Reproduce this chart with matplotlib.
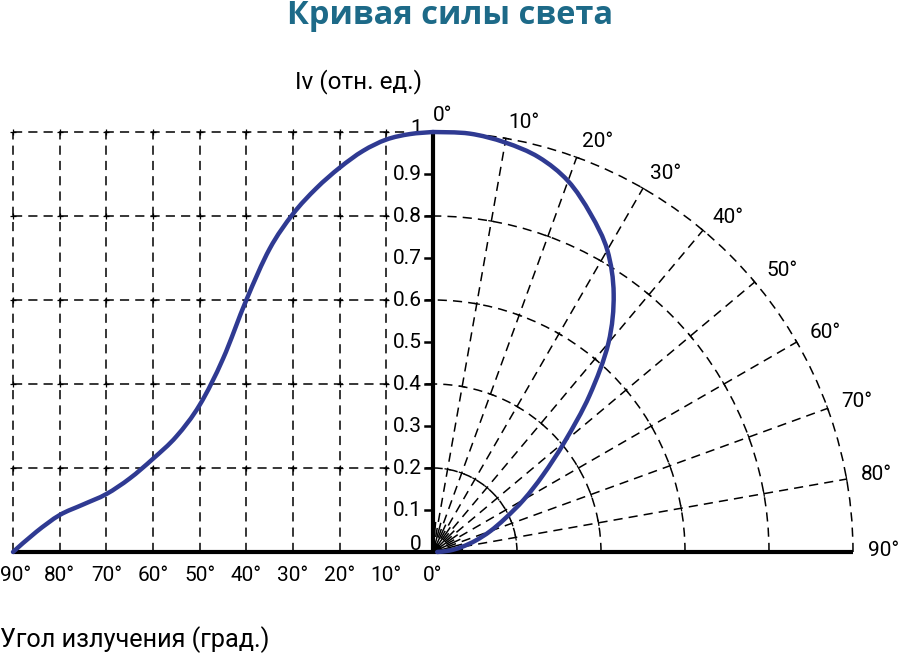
import numpy as np
import matplotlib

matplotlib.use("agg")
import matplotlib.pyplot as plt
from matplotlib.path import Path
from matplotlib.patches import PathPatch, Arc

plt.rcParams["font.family"] = ["Roboto", "DejaVu Sans"]

# left part: intensity vs angle (cartesian)
cart_angles = [0, 5, 10, 15, 20, 25, 30, 35, 40, 45, 50, 55, 60, 65, 70, 75, 80, 85, 90]
cart_values = [1.0, 0.995, 0.982, 0.955, 0.915, 0.866, 0.805, 0.722, 0.60, 0.46,
               0.35, 0.275, 0.222, 0.175, 0.138, 0.113, 0.088, 0.048, 0.0]

# right part: the same curve in polar form
polar_angles = [0, 5, 10, 15, 20, 25, 30, 35, 40, 45, 50, 55, 60, 65, 70, 75, 80, 85, 90]
polar_values = [1.0, 1.0, 0.99, 0.973, 0.94, 0.888, 0.83, 0.75, 0.65, 0.527,
                0.41, 0.32, 0.25, 0.19, 0.145, 0.105, 0.07, 0.04, 0.01]

grid_angles = [10, 20, 30, 40, 50, 60, 70, 80, 90]
grid_levels = [0.2, 0.4, 0.6, 0.8, 1.0]
y_ticks = [0, 0.1, 0.2, 0.3, 0.4, 0.5, 0.6, 0.7, 0.8, 0.9, 1]
polar_labels = [0, 10, 20, 30, 40, 50, 60, 70, 80, 90]

title = "Кривая силы света"
ylabel = "Iv (отн. ед.)"
xlabel = "Угол излучения (град.)"

CURVE = "#2f3a92"
DASH = (0, (6, 4))
FS = 15


def smooth_line(x, y):
    # catmull-rom through the points, drawn as bezier segments
    p = np.column_stack([x, y]).astype(float)
    verts = [p[0]]
    codes = [Path.MOVETO]
    n = len(p)
    for i in range(n - 1):
        p0 = p[max(i - 1, 0)]
        p3 = p[min(i + 2, n - 1)]
        c1 = p[i] + (p[i + 1] - p0) / 6
        c2 = p[i + 1] - (p3 - p[i]) / 6
        verts += [c1, c2, p[i + 1]]
        codes += [Path.CURVE4] * 3
    return Path(verts, codes)


fig = plt.figure(figsize=(9, 6.55), dpi=100)
ax = fig.add_axes([0, 0, 1, 1])
ax.set_xlim(-433 / 420, 467 / 420)
ax.set_ylim(-103 / 420, 552 / 420)
ax.axis("off")

# left grid
for a in grid_angles:
    ax.plot([-a / 90, -a / 90], [0, 1], color="black", lw=1.1, ls=DASH, zorder=1)
for lv in grid_levels:
    ax.plot([-1, 0], [lv, lv], color="black", lw=1.1, ls=DASH, zorder=1)
gx, gy = np.meshgrid([-a / 90 for a in grid_angles], grid_levels)
ax.plot(gx.ravel(), gy.ravel(), "+", color="black", ms=5, mew=0.9, zorder=1)

# polar grid
for lv in grid_levels:
    ax.add_patch(Arc((0, 0), 2 * lv, 2 * lv, theta1=0, theta2=90, color="black",
                     lw=1.1, ls=DASH, zorder=1))
for a in grid_angles[:-1]:
    th = np.radians(a)
    ax.plot([0, np.sin(th)], [0, np.cos(th)], color="black", lw=1.1, ls=DASH, zorder=1)
    for lv in grid_levels:
        px, py = lv * np.sin(th), lv * np.cos(th)
        dx, dy = 0.006 * np.cos(th), -0.006 * np.sin(th)
        ax.plot([px - dx, px + dx], [py - dy, py + dy], color="black", lw=0.9, zorder=1)
# extra short rays near the origin
for a in range(5, 90, 10):
    th = np.radians(a)
    ax.plot([0, 0.07 * np.sin(th)], [0, 0.07 * np.cos(th)], color="black", lw=1.1, zorder=1)

# axes
ax.plot([-1, 1.0], [0, 0], color="black", lw=3, zorder=3, solid_capstyle="butt")
ax.plot([0, 0], [0, 1], color="black", lw=3, zorder=3, solid_capstyle="butt")
for v in y_ticks[1:]:
    ax.plot([-0.018, 0], [v, v], color="black", lw=1.8, zorder=3)
for v in y_ticks:
    lab = f"{v:g}"
    yy = v
    if v == 0:
        yy = 0.017
    elif v == 1:
        yy = 1.008
    ax.text(-0.027, yy, lab, ha="right", va="center", fontsize=FS, zorder=2,
            bbox=dict(boxstyle="square,pad=0.05", fc="white", ec="none"))

# curves
cx = [-a / 90 for a in cart_angles]
ax.add_patch(PathPatch(smooth_line(cx, cart_values), fill=False, ec=CURVE, lw=3.2,
                       zorder=4, capstyle="round"))
pth = np.radians(polar_angles)
pr = np.array(polar_values)
ax.add_patch(PathPatch(smooth_line(pr * np.sin(pth), pr * np.cos(pth)), fill=False,
                       ec=CURVE, lw=3.2, zorder=4, capstyle="round"))

# angle labels
for a in [90, 80, 70, 60, 50, 40, 30, 20, 10, 0]:
    if a == 90:
        ax.text(-433 / 420, -0.057, f"{a}°", ha="left", va="center", fontsize=FS)
    else:
        ax.text(-a / 90, -0.057, f"{a}°", ha="center", va="center", fontsize=FS)
for a in polar_labels:
    th = np.radians(a)
    ax.text(1.035 * np.sin(th), 1.035 * np.cos(th) + 0.004, f"{a}°", ha="left", va="center",
            fontsize=FS)

ax.text(0.5, 0.977, title, transform=ax.transAxes, ha="center", va="center",
        fontsize=23.5, fontweight="bold", color="#1d6a88", family=["Open Sans", "DejaVu Sans"])
ax.text(-74 / 420, 470 / 420, ylabel, ha="center", va="center", fontsize=17.5)
ax.text(-433 / 420, -88 / 420, xlabel, ha="left", va="center", fontsize=18.2)

fig.savefig("out.png", dpi=100)
